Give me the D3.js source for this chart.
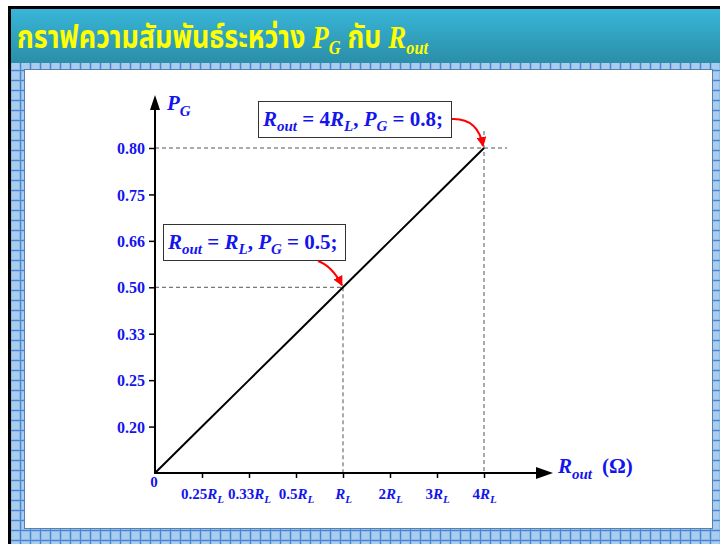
<!DOCTYPE html>
<html>
<head>
<meta charset="utf-8">
<script src="https://cdn.jsdelivr.net/npm/d3@7"></script>
<style>
  body { margin: 0; background: #fff; }
  svg { display: block; }
</style>
</head>
<body>
<div id="chart"></div>
<script>
// R_out as multiples of R_L, and matching P_G values
const xCats = ["0", "0.25", "0.33", "0.5", "1", "2", "3", "4"];
const yCats = ["0", "0.20", "0.25", "0.33", "0.50", "0.66", "0.75", "0.80"];
const rOut = ["0", "0.25", "0.33", "0.5", "1", "2", "3", "4"];
const pG = ["0", "0.20", "0.25", "0.33", "0.50", "0.66", "0.75", "0.80"];
// highlighted points
const notes = [
    {r: "4", p: "0.80", coef: "4", val: "0.8"},
    {r: "1", p: "0.50", coef: "", val: "0.5"}
];
const titleText = "กราฟความสัมพันธ์ระหว่าง";

const W = 720, H = 544;
const blue = '#1414ee';
const serif = '"Liberation Serif", "Times New Roman", serif';

const svg = d3.select('#chart').append('svg')
    .attr('width', W)
    .attr('height', H);

const defs = svg.append('defs');

// blue grid border pattern
const pat = defs.append('pattern')
    .attr('id', 'grid')
    .attr('patternUnits', 'userSpaceOnUse')
    .attr('width', 10).attr('height', 10);
pat.append('rect').attr('width', 10).attr('height', 10).attr('fill', '#8fbbe8');
pat.append('rect').attr('x', 2).attr('y', 2).attr('width', 7).attr('height', 7).attr('fill', '#a9ccef');
pat.append('path').attr('d', 'M0,0.5H10M0.5,0V10').attr('stroke', '#4a86d0').attr('stroke-width', 1);

const grad = defs.append('linearGradient')
    .attr('id', 'titleGrad')
    .attr('x1', 0).attr('y1', 0).attr('x2', 0).attr('y2', 1);
grad.append('stop').attr('offset', '0%').attr('stop-color', '#39b6d8');
grad.append('stop').attr('offset', '100%').attr('stop-color', '#2a8ea8');

defs.append('marker')
    .attr('id', 'redHead')
    .attr('viewBox', '0 0 10 10')
    .attr('refX', 9).attr('refY', 5)
    .attr('markerWidth', 5).attr('markerHeight', 5)
    .attr('orient', 'auto')
    .append('path').attr('d', 'M0,0L10,5L0,10Z').attr('fill', '#f00');

// frame
svg.append('rect').attr('x', 8).attr('y', 6).attr('width', W - 8).attr('height', H - 6).attr('fill', '#000');
svg.append('rect').attr('x', 11).attr('y', 9).attr('width', W - 11).attr('height', H - 9).attr('fill', 'url(#grid)');
svg.append('rect').attr('x', 11).attr('y', 9).attr('width', W - 11).attr('height', 54).attr('fill', 'url(#titleGrad)');
svg.append('rect')
    .attr('x', 24.5).attr('y', 69.5).attr('width', 688).attr('height', 459)
    .attr('fill', '#fff')
    .attr('stroke', '#5a7fae')
    .attr('stroke-width', 1);

// title (tall face like the original)
const title = svg.append('text')
    .attr('transform', 'translate(17,48) scale(0.96,1.15)')
    .attr('fill', '#ffff00')
    .style('font-family', '"Noto Sans Thai", "Noto Serif Thai", "Garuda", "Loma", sans-serif')
    .style('font-weight', 'bold')
    .style('font-size', '28px');
title.append('tspan').text(titleText + ' ');
title.append('tspan').style('font-family', serif).style('font-style', 'italic').text('P');
title.append('tspan').style('font-family', serif).style('font-style', 'italic')
    .style('font-size', '17px').attr('dy', 5).text('G');
title.append('tspan').attr('dy', -5).text(' กับ ');
title.append('tspan').style('font-family', serif).style('font-style', 'italic').text('R');
title.append('tspan').style('font-family', serif).style('font-style', 'italic')
    .style('font-size', '17px').attr('dy', 5).text('out');

// scales
const x = d3.scalePoint().domain(xCats).range([155, 484]);
const y = d3.scalePoint().domain(yCats).range([473, 148]);
const x0 = x('0'), y0 = y('0');

// helper: italic letter with subscript
function addSub(sel, main, sub, subSize, dy) {
    sel.append('tspan').style('font-style', 'italic').text(main);
    sel.append('tspan').style('font-style', 'italic').style('font-size', subSize + 'px').attr('dy', dy).text(sub);
}

// axes
const yAxis = svg.append('g')
    .attr('transform', `translate(${x0},0)`)
    .call(d3.axisLeft(y).tickValues(yCats.slice(1)).tickSize(6).tickPadding(4));
yAxis.select('.domain').remove();
yAxis.selectAll('line').attr('stroke', '#000').attr('stroke-width', 1.5);
yAxis.selectAll('text')
    .attr('fill', blue)
    .attr('dy', '0.35em')
    .style('font-family', serif).style('font-weight', 'bold').style('font-size', '16px');

const xAxis = svg.append('g')
    .attr('transform', `translate(0,${y0})`)
    .call(d3.axisBottom(x).tickValues(xCats.slice(1)).tickSize(5).tickPadding(10));
xAxis.select('.domain').remove();
xAxis.selectAll('line').attr('stroke', '#000').attr('stroke-width', 1.5);
xAxis.selectAll('text')
    .attr('fill', blue)
    .style('font-family', serif).style('font-weight', 'bold').style('font-size', '15px')
    .each(function(d) {
        const t = d3.select(this).text(null);
        if (d !== '1') t.append('tspan').text(d);
        addSub(t, 'R', 'L', 11, 4);
    });

// dashed guides
const dash = svg.append('g').attr('stroke', '#555').attr('stroke-width', 1).attr('stroke-dasharray', '4,3');
dash.append('line').attr('x1', x0).attr('x2', x('4') + 23).attr('y1', y('0.80')).attr('y2', y('0.80'));
dash.append('line').attr('x1', x('4')).attr('x2', x('4')).attr('y1', y('0.80') - 17).attr('y2', y0);
dash.append('line').attr('x1', x0).attr('x2', x('1')).attr('y1', y('0.50')).attr('y2', y('0.50'));
dash.append('line').attr('x1', x('1')).attr('x2', x('1')).attr('y1', y('0.50')).attr('y2', y0);

// the curve
const line = d3.line().x(d => x(d[0])).y(d => y(d[1]));
svg.append('path')
    .datum(rOut.map((r, i) => [r, pG[i]]))
    .attr('d', line)
    .attr('fill', 'none')
    .attr('stroke', '#000')
    .attr('stroke-width', 2);

// axis lines with arrow heads
svg.append('line').attr('x1', x0).attr('x2', x0).attr('y1', y0 + 1).attr('y2', 108).attr('stroke', '#000').attr('stroke-width', 2);
svg.append('path').attr('d', `M${x0},95L${x0 - 5},110L${x0 + 5},110Z`).attr('fill', '#000');
svg.append('line').attr('x1', x0 - 1).attr('x2', 538).attr('y1', y0).attr('y2', y0).attr('stroke', '#000').attr('stroke-width', 2);
svg.append('path').attr('d', `M553,${y0}L536,${y0 - 6}L536,${y0 + 6}Z`).attr('fill', '#000');

// origin label
svg.append('text')
    .attr('x', x0 - 1).attr('y', y0 + 14)
    .attr('text-anchor', 'middle')
    .attr('fill', blue)
    .style('font-family', serif).style('font-weight', 'bold').style('font-size', '15px')
    .text('0');

// axis titles
const yt = svg.append('text')
    .attr('x', 167).attr('y', 110)
    .attr('fill', blue)
    .style('font-family', serif).style('font-weight', 'bold').style('font-size', '21px');
addSub(yt, 'P', 'G', 15, 6);

const xt = svg.append('text')
    .attr('x', 558).attr('y', 473)
    .attr('fill', blue)
    .style('font-family', serif).style('font-weight', 'bold').style('font-size', '21px');
addSub(xt, 'R', 'out', 15, 6);
xt.append('tspan').attr('dx', 10).attr('dy', -6).style('font-style', 'normal').text('(Ω)');

// annotations
const boxes = [
    {bx: 258, by: 101, bw: 193, bh: 36, from: [452, 119], ctrl: [478, 118], to: notes[0]},
    {bx: 163, by: 224, bw: 182, bh: 36, from: [318, 261], ctrl: [332, 266], to: notes[1]}
];
boxes.forEach(b => {
    const n = b.to;
    svg.append('rect')
        .attr('x', b.bx + 0.5).attr('y', b.by + 0.5).attr('width', b.bw).attr('height', b.bh)
        .attr('fill', '#fff').attr('stroke', '#333').attr('stroke-width', 1);
    const t = svg.append('text')
        .attr('x', b.bx + 5).attr('y', b.by + 25)
        .attr('fill', blue)
        .style('font-family', serif).style('font-weight', 'bold').style('font-size', '21px');
    addSub(t, 'R', 'out', 15, 5);
    t.append('tspan').attr('dy', -5).text(' = ' + n.coef);
    addSub(t, 'R', 'L', 15, 5);
    t.append('tspan').attr('dy', -5).text(', ');
    addSub(t, 'P', 'G', 15, 5);
    t.append('tspan').attr('dy', -5).text(' = ' + n.val + ';');

    const tx = x(n.r) - 1, ty = y(n.p) - 2;
    svg.append('path')
        .attr('d', `M${b.from[0]},${b.from[1]}Q${b.ctrl[0]},${b.ctrl[1]} ${tx},${ty}`)
        .attr('fill', 'none')
        .attr('stroke', '#f00')
        .attr('stroke-width', 2)
        .attr('marker-end', 'url(#redHead)');
});
</script>
</body>
</html>
